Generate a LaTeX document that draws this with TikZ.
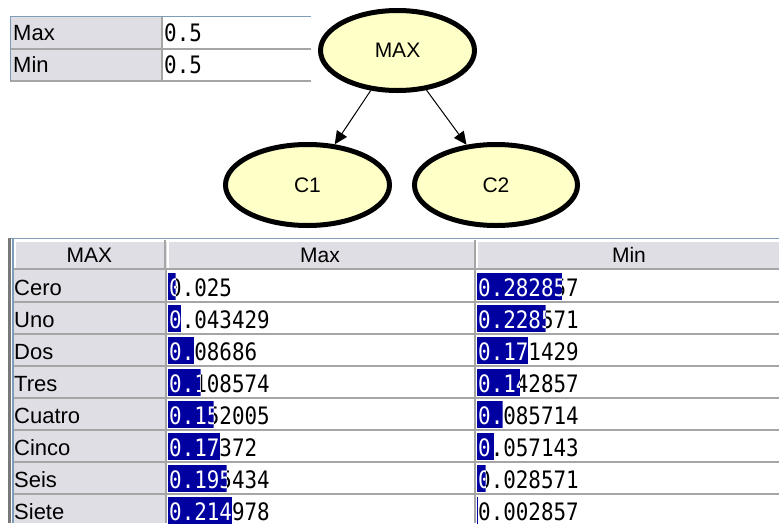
\documentclass[tikz,border=0pt]{standalone}
\usepackage{fontspec}
\usetikzlibrary{shapes.geometric,arrows.meta}
\setmainfont{Liberation Sans}
\newfontfamily\numfont[FakeStretch=0.87]{DejaVu Sans Mono}
\definecolor{cellgray}{RGB}{222,222,228}
\definecolor{gridgray}{RGB}{165,165,165}
\definecolor{edgeblue}{RGB}{127,157,185}
\definecolor{barblue}{RGB}{0,0,160}
\definecolor{nodefill}{RGB}{255,255,200}
\definecolor{framegray}{RGB}{120,120,120}

% probability cell: name, left x of the cell, top y of the row, value
\newcommand{\probcell}[4]{%
  \pgfmathsetmacro{\barw}{300*#4}%
  \node[num] (#1) at (#2+1,#3+26.5) {#4};%
  \begin{scope}
    \clip (#2,#3+3) rectangle ++(\barw,27);
    \fill[barblue] (#2,#3+3) rectangle ++(\barw,27);
    \node[num,text=white] at (#2+1,#3+26.5) {#4};
  \end{scope}}

\begin{document}
\begin{tikzpicture}[x=1pt,y=-1pt,
  lbl/.style={inner sep=0pt, font=\fontsize{22}{26}\selectfont, anchor=base west},
  hdr/.style={inner sep=0pt, font=\fontsize{21}{25}\selectfont, anchor=base},
  num/.style={inner sep=0pt, font=\numfont\fontsize{24}{28}\selectfont, anchor=base west},
  bnode/.style={ellipse, draw=black, line width=5pt, fill=nodefill, inner sep=0pt,
                font=\fontsize{21}{25}\selectfont},
  arr/.style={-{Triangle[length=13pt,width=12pt]}, line width=1pt, black},
  gridln/.style={gridgray, line width=2pt},
]
\useasboundingbox (0,0) rectangle (779,523);
\fill[white] (0,0) rectangle (779,523);

% ---- prior table ----
\fill[cellgray] (11,17) rectangle (162,80);
\draw[gridln] (10,48.5) -- (311,48.5);
\draw[gridln] (10,80.5) -- (311,80.5);
\draw[gridln] (162,17) -- (162,81);
\draw[edgeblue, line width=1.5pt] (10,16.5) -- (311,16.5);
\draw[edgeblue, line width=1.5pt] (10.5,16) -- (10.5,81);
\node[lbl] (tmax) at (13,40) {Max};
\node[lbl] (tmin) at (13,72) {Min};
\node[num] (tmaxv) at (164,41) {0.5};
\node[num] (tminv) at (164,73) {0.5};

% ---- network ----
\node[bnode, minimum width=154pt, minimum height=80pt] (max) at (397.5,50.5) {MAX};
\node[bnode, minimum width=164pt, minimum height=81pt] (c1) at (307.5,185) {C1};
\node[bnode, minimum width=163pt, minimum height=81pt] (c2) at (496,185) {C2};
\draw[arr] (max) -- (c1);
\draw[arr] (max) -- (c2);

% ---- conditional table ----
\fill[cellgray] (14,240) rectangle (779,268);
\fill[cellgray] (14,270) rectangle (165,523);
\draw[white, line width=1.5pt] (14,241) -- (779,241);
\foreach \x in {15,168,477} \draw[white, line width=1.5pt] (\x,240) -- (\x,268);
\foreach \x in {164.5,474.5} \draw[gridln] (\x,240) -- (\x,268);
\draw[gridln] (14,269) -- (779,269);
\foreach \k in {1,...,7} \draw[gridln] (14,270+32*\k) -- (779,270+32*\k);
\foreach \x in {165.5,474.5} \draw[gridln] (\x,268) -- (\x,523);
\draw[edgeblue, line width=1.5pt] (10,238.5) -- (779,238.5);
\draw[framegray, line width=3pt] (9.5,238) -- (9.5,523);
\draw[edgeblue, line width=1.5pt] (13,239) -- (13,523);

\node[hdr] (hmax) at (89.5,262) {MAX};
\node[hdr] (hmx) at (320,262) {Max};
\node[hdr] (hmn) at (629,262) {Min};

\foreach \lab/\va/\vb [count=\i from 0] in {Cero/0.025/0.282857, Uno/0.043429/0.228571,
    Dos/0.08686/0.171429, Tres/0.108574/0.142857, Cuatro/0.152005/0.085714,
    Cinco/0.17372/0.057143, Seis/0.195434/0.028571, Siete/0.214978/0.002857}{
  \pgfmathsetmacro{\rt}{270+32*\i}
  \node[lbl] (row\i) at (14,\rt+25) {\lab};
  \probcell{mx\i}{168}{\rt}{\va}
  \probcell{mn\i}{477}{\rt}{\vb}
}
\end{tikzpicture}
\end{document}
